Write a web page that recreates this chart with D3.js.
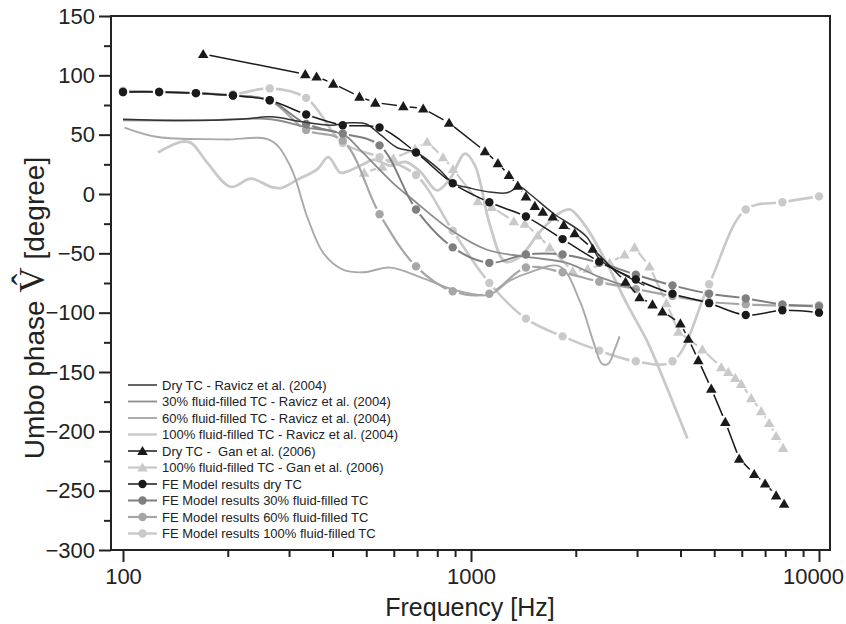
<!DOCTYPE html>
<html>
<head>
<meta charset="utf-8">
<script src="https://cdn.jsdelivr.net/npm/d3@7"></script>
<style>
  body { margin: 0; background: #fff; }
  svg { display: block; }
  text { font-family: "Liberation Sans", Arial, sans-serif; fill: #222; }
</style>
</head>
<body>
<svg id="chart" width="846" height="624"></svg>
<script>
// ---- data: [frequency Hz, phase deg] ----
const ravDry = [[100,63],[147,62],[218,63],[266,65],[324,61],[394,58],[450,60],[500,59],[549,50],[614,39],[696,35],[815,20],[888,9],[993,5],[1111,2],[1268,1],[1381,6],[1476,0],[1718,-16],[2149,-36],[2342,-55],[2673,-66],[3152,-77]];
const rav30 = [[100,62],[167,62],[266,63],[339,56],[430,50],[481,37],[598,9],[682,-5],[871,-30],[1111,-47],[1447,-53],[1884,-58],[2342,-70],[3050,-81]];
const rav60 = [[101,56],[126,48],[195,46],[266,45],[303,23],[339,-20],[377,-50],[430,-64],[490,-66],[586,-62],[714,-70],[900,-81],[1126,-85],[1293,-73],[1476,-66],[1799,-61],[2053,-90],[2250,-125],[2380,-143],[2480,-143],[2580,-132],[2673,-120]];
const rav100 = [[126,35],[147,44],[157,43],[175,26],[204,6],[233,13],[266,6],[284,5],[317,12],[362,21],[389,31],[421,18],[441,19],[490,25],[524,29],[586,24],[647,27],[714,19],[799,3],[871,13],[961,34],[1027,24],[1133,-26],[1252,-57],[1381,-53],[1576,-32],[1799,-16],[1922,-13],[2121,-26],[2453,-58],[2799,-92],[3194,-123],[3549,-154],[4186,-206]];
const ganDry = [[170,118],[334,101],[360,99],[402,93],[478,82],[531,77],[639,74],[729,72],[865,60],[1097,36],[1195,26],[1285,16],[1363,7],[1438,-2],[1526,-10],[1608,-15],[1718,-19],[1847,-26],[1986,-33],[2237,-46],[2780,-74],[3050,-87],[3323,-93],[3549,-99],[3997,-109],[4213,-122],[4501,-140],[4903,-164],[5379,-192],[5898,-223],[6514,-236],[7001,-244],[7531,-254],[7938,-261]];
const gan100 = [[493,18],[556,23],[598,30],[691,38],[748,44],[831,31],[888,21],[1047,-6],[1148,-11],[1328,-23],[1428,-25],[1556,-35],[1684,-45],[1960,-65],[2164,-63],[2502,-58],[2762,-51],[2951,-45],[3258,-61],[3645,-92],[3945,-116],[4622,-131],[5238,-146],[5486,-150],[5745,-155],[5977,-160],[6386,-172],[6822,-183],[7191,-193],[7530,-204],[7885,-214]];

const feFreq = [100,127,162,207,264,336,428,546,695,886,1129,1438,1833,2336,2976,3793,4833,6159,7848,10000];
const feDry = [86,86,85,83,79,67,58,56,35,9,-7,-19,-38,-57,-72,-84,-92,-102,-98,-100];
const fe30  = [86,86,85,83,79,59,51,41,-13,-45,-58,-51,-51,-58,-68,-77,-84,-88,-93,-95];
const fe60  = [86,86,85,83,79,54,45,-17,-61,-82,-84,-62,-66,-74,-80,-86,-91,-93,-94,-94];
const fe100 = [87,86,85,84,89,81,43,31,16,-31,-75,-105,-120,-132,-141,-141,-76,-13,-7,-2];

const xTicksMajor = [100, 1000, 10000];
const yTicksMajor = [150, 100, 50, 0, -50, -100, -150, -200, -250, -300];

const svg = d3.select("#chart");
const pLeft = 111, pRight = 830, pTop = 16, pBottom = 550;

const x = d3.scaleLog().domain([100, 10000]).range([123, 819]);
const y = d3.scaleLinear().domain([-300, 150]).range([pBottom, pTop]);

const fe = vals => vals.map((v, i) => [feFreq[i], v]);

// drawn light first, dark last
const series = [
  { label: "100% fluid-filled TC - Ravicz et al. (2004)", data: rav100, color: "#c9c9c9", w: 2.8, mark: null, curve: d3.curveCatmullRom },
  { label: "FE Model results 100% fluid-filled TC", data: fe(fe100), color: "#c9c9c9", w: 2.6, mark: "circle", curve: d3.curveCatmullRom },
  { label: "100% fluid-filled TC - Gan et al. (2006)", data: gan100, color: "#c9c9c9", w: 2.2, mark: "tri", curve: d3.curveLinear },
  { label: "60% fluid-filled TC - Ravicz et al. (2004)", data: rav60, color: "#a9a9a9", w: 1.9, mark: null, curve: d3.curveCatmullRom },
  { label: "FE Model results 60% fluid-filled TC", data: fe(fe60), color: "#a6a6a6", w: 2.2, mark: "circle", curve: d3.curveCatmullRom },
  { label: "30% fluid-filled TC - Ravicz et al. (2004)", data: rav30, color: "#8c8c8c", w: 1.8, mark: null, curve: d3.curveCatmullRom },
  { label: "FE Model results 30% fluid-filled TC", data: fe(fe30), color: "#7f7f7f", w: 2, mark: "circle", curve: d3.curveCatmullRom },
  { label: "Dry TC - Ravicz et al. (2004)", data: ravDry, color: "#333", w: 1.5, mark: null, curve: d3.curveCatmullRom },
  { label: "FE Model results dry TC", data: fe(feDry), color: "#1a1a1a", w: 1.5, mark: "circle", curve: d3.curveCatmullRom },
  { label: "Dry TC -  Gan et al. (2006)", data: ganDry, color: "#1a1a1a", w: 1.5, mark: "tri", curve: d3.curveLinear }
];

const legendOrder = [7, 5, 3, 0, 9, 2, 8, 6, 4, 1];

const defs = svg.append("defs");
defs.append("clipPath").attr("id", "plotclip")
  .append("rect").attr("x", pLeft).attr("y", pTop).attr("width", pRight - pLeft).attr("height", pBottom - pTop);

const tri = d3.symbol().type(d3.symbolTriangle).size(48);

function drawMarker(g, mark, cx, cy, color) {
  if (mark === "circle") {
    g.append("circle").attr("cx", cx).attr("cy", cy).attr("r", 4.2).attr("fill", color);
  } else if (mark === "tri") {
    g.append("path").attr("d", tri()).attr("transform", `translate(${cx},${cy + 1})`).attr("fill", color);
  }
}

const plot = svg.append("g").attr("clip-path", "url(#plotclip)");

series.forEach((s, i) => {
  const line = d3.line().x(d => x(d[0])).y(d => y(d[1])).curve(s.curve);
  const path = plot.append("path")
    .attr("d", line(s.data))
    .attr("fill", "none")
    .attr("stroke", s.color)
    .attr("stroke-width", s.w)
    .attr("stroke-linejoin", "round");
  if (s.mark) {
    // gap in the line around each symbol
    const m = defs.append("mask").attr("id", "gap" + i)
      .attr("maskUnits", "userSpaceOnUse")
      .attr("x", 0).attr("y", 0).attr("width", 846).attr("height", 624);
    m.append("rect").attr("width", 846).attr("height", 624).attr("fill", "#fff");
    s.data.forEach(d => {
      m.append("circle").attr("cx", x(d[0])).attr("cy", y(d[1])).attr("r", 6.5).attr("fill", "#000");
    });
    path.attr("mask", `url(#gap${i})`);
    const mg = plot.append("g");
    s.data.forEach(d => drawMarker(mg, s.mark, x(d[0]), y(d[1]), s.color));
  }
});

// ---- frame and axes ----
const axisColor = "#222";
svg.append("rect")
  .attr("x", pLeft).attr("y", pTop).attr("width", pRight - pLeft).attr("height", pBottom - pTop)
  .attr("fill", "none").attr("stroke", axisColor).attr("stroke-width", 2);

const xMinor = [];
[100, 1000].forEach(dec => { for (let k = 2; k <= 9; k++) xMinor.push(dec * k); });

const xMinorAxis = svg.append("g").attr("transform", `translate(0,${pBottom})`)
  .call(d3.axisBottom(x).tickValues(xMinor).tickSize(7).tickFormat(""));
const xMajorAxis = svg.append("g").attr("transform", `translate(0,${pBottom})`)
  .call(d3.axisBottom(x).tickValues(xTicksMajor).tickSize(12).tickPadding(6).tickFormat(d3.format("d")));

const yMinor = d3.range(-275, 150, 50);
const yMinorAxis = svg.append("g").attr("transform", `translate(${pLeft},0)`)
  .call(d3.axisLeft(y).tickValues(yMinor).tickSize(7).tickFormat(""));
const yMajorAxis = svg.append("g").attr("transform", `translate(${pLeft},0)`)
  .call(d3.axisLeft(y).tickValues(yTicksMajor).tickSize(12).tickPadding(4).tickFormat(d3.format("d")));

[xMinorAxis, xMajorAxis, yMinorAxis, yMajorAxis].forEach(a => {
  a.select(".domain").remove();
  a.selectAll(".tick line").attr("stroke", axisColor).attr("stroke-width", 2);
  a.selectAll(".tick text").attr("font-size", 22).attr("fill", "#222")
    .style("font-family", "'Liberation Sans', Arial, sans-serif");
});
// last label sits against the right edge
xMajorAxis.selectAll(".tick text").filter(d => d === 10000).attr("dx", -6);

svg.append("text")
  .attr("x", 470).attr("y", 616)
  .attr("text-anchor", "middle").attr("font-size", 25)
  .text("Frequency [Hz]");

const yt = svg.append("text")
  .attr("transform", "translate(44,308) rotate(-90)")
  .attr("text-anchor", "middle").attr("font-size", 28);
yt.append("tspan").text("Umbo phase ");
yt.append("tspan").style("font-family", "'Liberation Serif', 'DejaVu Serif', serif").attr("font-size", 35).text("V\u0302");
yt.append("tspan").text(" [degree]");

// ---- legend ----
const lg = svg.append("g");
legendOrder.forEach((si, r) => {
  const s = series[si];
  const cy = 385 + r * 16.5;
  lg.append("line").attr("x1", 128).attr("x2", 157).attr("y1", cy).attr("y2", cy)
    .attr("stroke", s.color).attr("stroke-width", Math.min(s.w, 2.4));
  drawMarker(lg, s.mark, 142.5, cy, s.color);
  lg.append("text").attr("x", 162).attr("y", cy).attr("dy", "0.35em")
    .attr("font-size", 13).style("white-space", "pre").text(s.label);
});
</script>
</body>
</html>
